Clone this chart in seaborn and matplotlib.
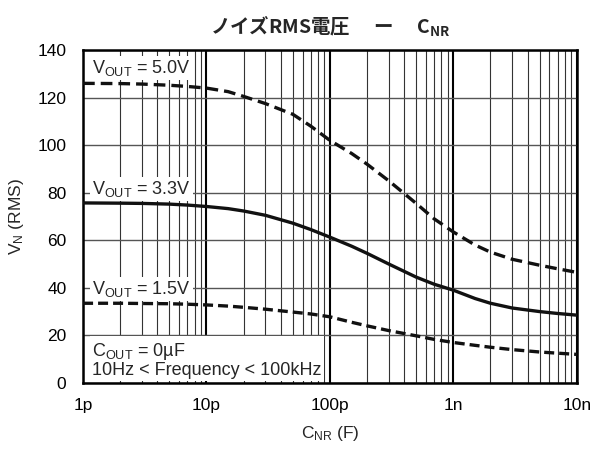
import pandas as pd
import seaborn as sns
import matplotlib.pyplot as plt
from matplotlib.ticker import LogLocator, FixedLocator, NullFormatter

# C_NR values (F) and noise voltage readings for each output voltage
cnr = [1e-12, 2e-12, 3e-12, 5e-12, 7e-12, 1e-11, 1.5e-11, 2e-11, 3e-11, 5e-11, 7e-11, 1e-10,
       1.5e-10, 2e-10, 3e-10, 5e-10, 7e-10, 1e-9, 1.5e-9, 2e-9, 3e-9, 5e-9, 7e-9, 1e-8]
vn_50 = [126, 125.9, 125.7, 125.2, 124.7, 124, 122.5, 120.5, 117.5, 113, 108, 102,
         96.5, 92, 85, 75.5, 69, 63.5, 58, 55, 52, 49.5, 48, 46.5]
vn_33 = [75.7, 75.6, 75.5, 75.2, 74.8, 74.2, 73.3, 72.3, 70.5, 67.2, 64.5, 61.3,
         57.5, 54.5, 50, 44.5, 41.5, 39, 35.5, 33.5, 31.5, 30, 29.2, 28.5]
vn_15 = [33.5, 33.5, 33.4, 33.3, 33.1, 32.8, 32.3, 31.8, 31, 29.8, 29, 27.8,
         25.5, 24, 22, 19.8, 18.3, 17, 15.8, 15, 14, 13, 12.5, 12]

x_ticks = [1e-12, 1e-11, 1e-10, 1e-9, 1e-8]
x_labels = ['1p', '10p', '100p', '1n', '10n']
y_ticks = [0, 20, 40, 60, 80, 100, 120, 140]

df = pd.concat([
    pd.DataFrame({'cnr': cnr, 'vn': vn_50, 'vout': '5.0V'}),
    pd.DataFrame({'cnr': cnr, 'vn': vn_33, 'vout': '3.3V'}),
    pd.DataFrame({'cnr': cnr, 'vn': vn_15, 'vout': '1.5V'}),
])

sns.set_style('white')
plt.rcParams['font.family'] = ['Liberation Sans', 'DejaVu Sans']
plt.rcParams['mathtext.default'] = 'regular'

fig = plt.figure(figsize=(6.02, 4.51), dpi=100)
ax = fig.add_axes([0.138, 0.151, 0.82, 0.738])

sns.lineplot(data=df, x='cnr', y='vn', hue='vout', style='vout',
             palette=['#111111'] * 3,
             dashes={'5.0V': (3.5, 1.8), '3.3V': '', '1.5V': (3, 1.5)},
             linewidth=2.4, legend=False, ax=ax, zorder=3)

ax.set_xscale('log')
ax.set_xlim(1e-12, 1e-8)
ax.set_ylim(0, 140)
ax.xaxis.set_major_locator(FixedLocator(x_ticks))
ax.set_xticklabels(x_labels)
ax.xaxis.set_minor_locator(LogLocator(base=10, subs=range(2, 10)))
ax.xaxis.set_minor_formatter(NullFormatter())
ax.set_yticks(y_ticks)
ax.tick_params(axis='both', which='both', length=0, labelsize=12.5, colors='black')
ax.tick_params(axis='y', pad=12)
ax.tick_params(axis='x', pad=11)

ax.xaxis.grid(True, which='major', color='black', lw=1.5)
ax.xaxis.grid(True, which='minor', color='#333333', lw=0.8)
ax.yaxis.grid(True, which='major', color='#555555', lw=1.0)
ax.set_axisbelow(True)
for s in ax.spines.values():
    s.set_color('black')
    s.set_linewidth(1.8)

ax.set_xlabel('C$_{NR}$ (F)', fontsize=12.5, labelpad=8)
ax.set_ylabel('V$_N$ (RMS)', fontsize=12.5, labelpad=8)
ax.set_title('ノイズRMS電圧　 ー 　C$_{NR}$', fontsize=14, pad=12, weight='bold',
             family=['Noto Sans CJK JP', 'DejaVu Sans'])

box = dict(facecolor='white', edgecolor='none', pad=1.5)
ax.text(1.18e-12, 132.4, 'V$_{OUT}$ = 5.0V', fontsize=13, va='center', ha='left', bbox=box, zorder=4)
ax.text(1.18e-12, 81.5, 'V$_{OUT}$ = 3.3V', fontsize=13, va='center', ha='left', bbox=box, zorder=4)
ax.text(1.18e-12, 39.5, 'V$_{OUT}$ = 1.5V', fontsize=13, va='center', ha='left', bbox=box, zorder=4)
ax.text(1.18e-12, 9.7, 'C$_{OUT}$ = 0µF\n10Hz < Frequency < 100kHz', fontsize=13,
        va='center', ha='left', linespacing=1.05, bbox=box, zorder=4)

fig.savefig('out.png', dpi=100)
